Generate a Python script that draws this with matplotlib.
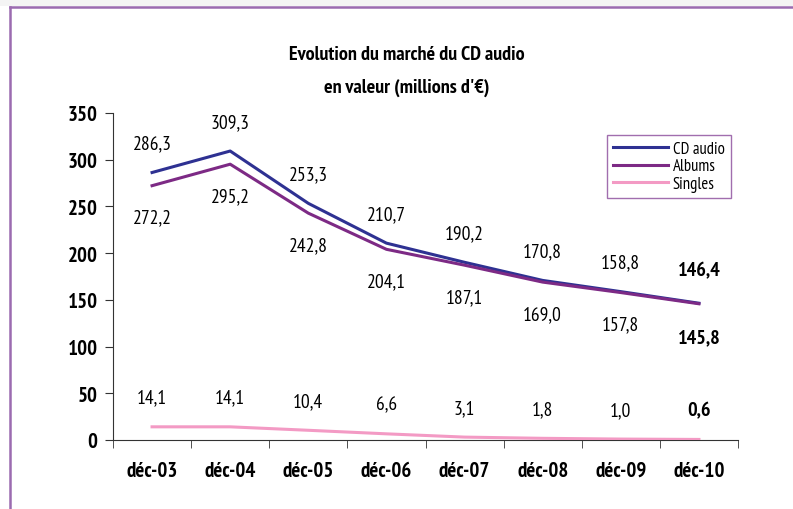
import matplotlib
matplotlib.use("Agg")
import matplotlib.pyplot as plt
from matplotlib.patches import Rectangle

# ---- data ----
months = ["déc-03", "déc-04", "déc-05", "déc-06", "déc-07", "déc-08", "déc-09", "déc-10"]
cd_audio = [286.3, 309.3, 253.3, 210.7, 190.2, 170.8, 158.8, 146.4]
albums = [272.2, 295.2, 242.8, 204.1, 187.1, 169.0, 157.8, 145.8]
singles = [14.1, 14.1, 10.4, 6.6, 3.1, 1.8, 1.0, 0.6]

plt.rcParams['font.family'] = ['PT Sans Narrow', 'Asap Condensed', 'DejaVu Sans']

fig = plt.figure(figsize=(7.93, 5.10), dpi=100)
fig.patch.set_facecolor('white')

# outer frame (left + top border)
fig.patches.append(Rectangle((0, 1 - 7 / 510), 1, 7 / 510, transform=fig.transFigure,
                             facecolor='#f4f4f4', edgecolor='none', zorder=0))
fig.lines.append(plt.Line2D([10 / 793, 10 / 793], [0, 1 - 8 / 510], transform=fig.transFigure,
                            color='#9b6bb0', lw=1.8))
fig.lines.append(plt.Line2D([10 / 793, 1], [1 - 8 / 510, 1 - 8 / 510], transform=fig.transFigure,
                            color='#9b6bb0', lw=1.8))

ax = fig.add_axes([113 / 793, 1 - 441 / 510, (738 - 113) / 793, (441 - 114) / 510])

x = list(range(len(months)))
c_cd, c_alb, c_sing = '#2e3192', '#7d2a85', '#f39ac4'
ax.plot(x, cd_audio, color=c_cd, lw=2.2, label='CD audio', zorder=3)
ax.plot(x, albums, color=c_alb, lw=2.2, label='Albums', zorder=3)
ax.plot(x, singles, color=c_sing, lw=2.2, label='Singles', zorder=3)

ax.set_xlim(-0.5, len(months) - 0.5)
ax.set_ylim(0, 350)
ax.set_yticks(range(0, 351, 50))
ax.set_xticks(x)
ax.set_xticklabels(months)
ax.set_xticks([i + 0.5 for i in range(-1, len(months))], minor=True)
ax.tick_params(axis='x', which='major', length=0, pad=15, labelsize=15)
ax.tick_params(axis='x', which='minor', length=6, direction='out', color='#333333')
ax.tick_params(axis='y', length=6, direction='out', labelsize=15, pad=5, color='#333333')
for lbl in ax.get_xticklabels() + ax.get_yticklabels():
    lbl.set_fontweight('bold')
for side in ('top', 'right'):
    ax.spines[side].set_visible(False)
for side in ('left', 'bottom'):
    ax.spines[side].set_color('#333333')

def fmt(v):
    return f"{v:.1f}".replace('.', ',')

# value labels: CD above, albums below, singles above; last point in bold
last = len(months) - 1
for i in x:
    bold = i == last
    kw = dict(ha='center', va='center', fontsize=14.5 if bold else 14,
              fontweight='bold' if bold else 'normal', color='black')
    ax.annotate(fmt(cd_audio[i]), (i, cd_audio[i]), textcoords='offset points',
                xytext=(0, 21 if not bold else 24), **kw)
    ax.annotate(fmt(albums[i]), (i, albums[i]), textcoords='offset points',
                xytext=(0, -23 if not bold else -24), **kw)
    ax.annotate(fmt(singles[i]), (i, singles[i]), textcoords='offset points',
                xytext=(0, 21), **kw)

fig.text(0.513, 1 - 55 / 510, "Evolution du marché du CD audio", ha='center', va='center',
         fontsize=14.5, fontweight='bold')
fig.text(0.513, 1 - 88 / 510, "en valeur (millions d'€)", ha='center', va='center',
         fontsize=14.5, fontweight='bold')

leg = ax.legend(loc='upper left', bbox_to_anchor=(607 / 793, 1 - 136 / 510),
                bbox_transform=fig.transFigure, fontsize=12, frameon=True, fancybox=False,
                handlelength=3.3, handletextpad=0.3, borderpad=0.35, labelspacing=0.1,
                borderaxespad=0)
leg.get_frame().set_edgecolor('#8a4a9a')
leg.get_frame().set_linewidth(1.0)

fig.savefig("out.png", dpi=100, facecolor='white')
